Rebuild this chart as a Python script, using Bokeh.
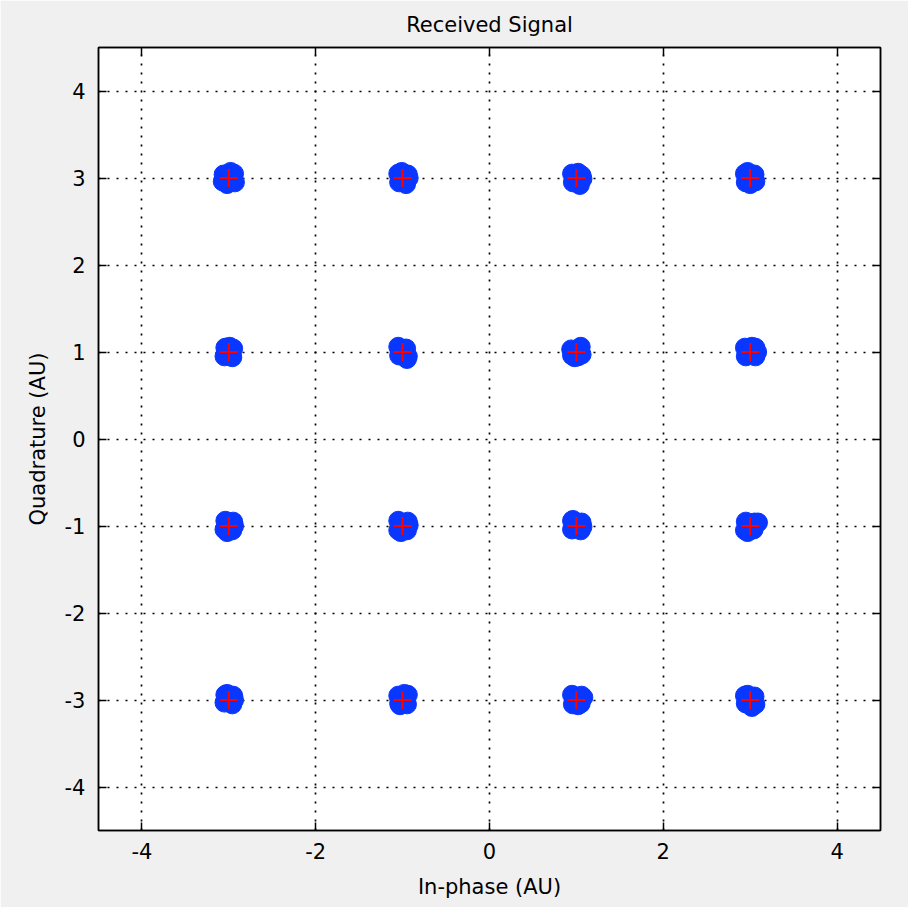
from bokeh.plotting import figure
from bokeh.models import LinearAxis, FixedTicker, Range1d, Title
from bokeh.embed import file_html
from bokeh.resources import INLINE

# ideal 16-QAM constellation points (red crosses)
ideal_i = [-3, -1, 1, 3, -3, -1, 1, 3, -3, -1, 1, 3, -3, -1, 1, 3]
ideal_q = [3, 3, 3, 3, 1, 1, 1, 1, -1, -1, -1, -1, -3, -3, -3, -3]

# received samples (blue blobs)
rx_i = [
    -3.06, -2.94, -3.07, -2.93, -3.00, -2.98, -3.02,
    -1.05, -0.94, -1.04, -0.96, -1.00, -0.93, -1.01,
    0.95, 1.06, 0.96, 1.04, 1.00, 1.07, 1.02,
    2.94, 3.05, 2.95, 3.06, 3.00, 3.00, 2.97,
    -3.04, -2.95, -3.05, -2.96, -3.00, -3.02, -2.99,
    -1.05, -0.96, -1.04, -0.94, -1.00, -0.95, -1.03,
    0.94, 1.05, 0.95, 1.06, 1.00, 1.02, 0.98,
    2.94, 3.06, 2.95, 3.06, 3.00, 3.08, 3.02,
    -3.04, -2.95, -3.05, -2.96, -3.00, -2.94, -3.02,
    -1.05, -0.94, -1.05, -0.95, -1.00, -0.93, -1.02,
    0.95, 1.06, 0.95, 1.05, 1.00, 0.96, 1.07,
    2.95, 3.05, 2.94, 3.04, 3.00, 3.09, 2.97,
    -3.04, -2.95, -3.05, -2.96, -3.00, -2.94, -3.02,
    -1.05, -0.94, -1.04, -0.95, -1.00, -0.98, -1.03,
    0.95, 1.06, 0.96, 1.05, 1.00, 1.08, 1.02,
    2.94, 3.05, 2.95, 3.06, 3.00, 3.02, 2.97,
]
rx_q = [
    3.04, 3.05, 2.96, 2.95, 3.00, 3.07, 2.93,
    3.05, 3.04, 2.95, 2.93, 3.00, 3.00, 3.07,
    3.05, 3.03, 2.95, 2.92, 3.00, 2.99, 3.06,
    3.05, 3.04, 2.95, 2.96, 3.00, 2.93, 3.07,
    1.05, 1.04, 0.95, 0.94, 1.00, 0.98, 1.06,
    1.06, 1.04, 0.96, 0.95, 1.00, 0.92, 1.02,
    1.03, 1.06, 0.96, 0.97, 1.00, 0.95, 0.94,
    1.05, 1.05, 0.95, 0.95, 1.00, 1.00, 1.06,
    -0.94, -0.95, -1.04, -1.05, -1.00, -1.00, -1.07,
    -0.94, -0.95, -1.05, -1.05, -1.00, -0.99, -1.07,
    -0.94, -0.96, -1.04, -1.05, -1.00, -0.93, -1.01,
    -0.95, -0.96, -1.05, -1.04, -1.00, -0.96, -1.07,
    -2.94, -2.95, -3.03, -3.05, -3.00, -3.00, -2.93,
    -2.95, -2.94, -3.04, -3.05, -3.00, -2.93, -3.06,
    -2.94, -2.95, -3.05, -3.04, -3.00, -2.97, -3.06,
    -2.95, -2.96, -3.04, -3.05, -3.00, -3.08, -2.94,
]

x_ticks = [-4, -2, 0, 2, 4]
x_tick_labels = ["-4", "-2", "0", "2", "4"]
y_ticks = [-4, -3, -2, -1, 0, 1, 2, 3, 4]
y_tick_labels = ["-4", "-3", "-2", "-1", "0", "1", "2", "3", "4"]

FONT = "DejaVu Sans"
BG = "#f0f0f0"

p = figure(width=908, height=907, output_backend="svg", toolbar_location=None,
           x_range=Range1d(-4.5, 4.5), y_range=Range1d(-4.5, 4.5),
           x_axis_location=None, y_axis_location=None,
           min_border_left=98, min_border_right=28,
           min_border_top=47, min_border_bottom=77)
p.background_fill_color = "white"
p.border_fill_color = BG
p.outline_line_color = "black"
p.outline_line_width = 1.5

p.title = Title(text="Received Signal", align="center", text_font=FONT,
                text_font_size="21px", text_font_style="normal",
                text_color="black", standoff=21)

def style_axis(ax, ticks, labels):
    ax.ticker = FixedTicker(ticks=ticks)
    ax.axis_line_color = "black"
    ax.axis_line_width = 1.5
    ax.major_tick_line_color = "black"
    ax.major_tick_line_width = 1.5
    ax.major_tick_in = 8
    ax.major_tick_out = 0
    ax.minor_tick_line_color = None
    ax.major_label_text_font = FONT
    ax.major_label_text_font_size = "21px"
    ax.major_label_text_color = "black"
    ax.axis_label_text_font = FONT
    ax.axis_label_text_font_size = "21px"
    ax.axis_label_text_font_style = "normal"
    ax.axis_label_text_color = "black"
    if labels is None:
        ax.major_label_overrides = {t: "" for t in ticks}
    else:
        ax.major_label_overrides = {t: s for t, s in zip(ticks, labels)}

xb = LinearAxis(axis_label="In-phase (AU)")
style_axis(xb, x_ticks, x_tick_labels)
xb.major_label_standoff = 12
xb.axis_label_standoff = 13
p.add_layout(xb, "below")

yl = LinearAxis(axis_label="Quadrature (AU)")
style_axis(yl, y_ticks, y_tick_labels)
yl.major_label_standoff = 13
yl.axis_label_standoff = 12
p.add_layout(yl, "left")

xt = LinearAxis()
style_axis(xt, x_ticks, None)
p.add_layout(xt, "above")

yr = LinearAxis()
style_axis(yr, y_ticks, None)
p.add_layout(yr, "right")

p.xgrid.ticker = FixedTicker(ticks=x_ticks)
p.ygrid.ticker = FixedTicker(ticks=y_ticks)
for g in (p.xgrid, p.ygrid):
    g.grid_line_color = "black"
    g.grid_line_width = 1.7
    g.grid_line_dash = "2 7"

p.scatter(rx_i, rx_q, marker="circle", size=19, fill_color="#0a37ff",
          line_color="#0a37ff", line_width=1)
p.scatter(ideal_i, ideal_q, marker="cross", size=18, line_color="#ff0000",
          line_width=2)

open("out.html", "w").write(file_html(p, INLINE))
